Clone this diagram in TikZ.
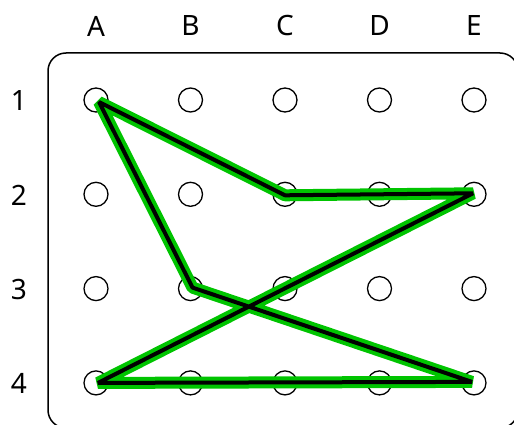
\documentclass[tikz,border=0pt]{standalone}
\usepackage{fontspec}
\setmainfont{Noto Sans}
\definecolor{bandgreen}{RGB}{0,196,0}
\tikzset{
  peg/.style={draw, circle, line width=1.3pt, minimum size=24pt, inner sep=0pt},
  lbl/.style={font=\fontsize{28}{28}\selectfont, inner sep=0pt},
  board/.style={draw, line width=1.5pt, rounded corners=18pt},
  band/.style={line width=12pt, draw=bandgreen, line join=bevel},
  cord/.style={line width=4pt, draw=black, line join=bevel}
}

\begin{document}
\begin{tikzpicture}[x=1pt, y=-1pt]
\useasboundingbox (0,0) rectangle (514,425);
\draw[board] (48,53) rectangle (518,428);
% pegs and labels
\foreach \c [count=\i from 0] in {A,B,C,D,E} {
  \node[lbl] (col\c) at (96+94.5*\i, 26) {\c};
  \foreach \r in {1,...,4}
    \node[peg] (p\c\r) at (96+94.5*\i, 100+94.3*\r-94.3) {};
}
\foreach \r in {1,...,4}
  \node[lbl] (row\r) at (19, 101+94.3*\r-94.3) {\r};
% rubber band
\foreach \s in {band, cord}
  \draw[\s] ([shift={(3,2)}]pA1.center) -- ([shift={(0,1)}]pC2.center)
    -- ([shift={(-1,-1)}]pE2.center) -- ([shift={(2,0)}]pA4.center)
    -- ([shift={(-2,-1)}]pE4.center) -- ([shift={(2,-1)}]pB3.center) -- cycle;
\end{tikzpicture}
\end{document}
